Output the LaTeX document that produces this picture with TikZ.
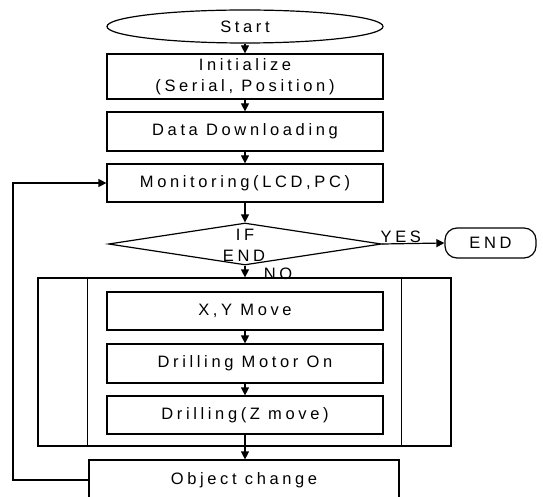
\documentclass[tikz,border=0pt]{standalone}
\usepackage{fontspec}
\setmainfont{Liberation Sans}[LetterSpace=22]
\usetikzlibrary{arrows.meta,shapes.geometric}
\begin{document}
\begin{tikzpicture}[x=1bp,y=-1bp,
  line width=1.2bp,
  every node/.style={font=\fontsize{16.5bp}{19bp}\selectfont, inner sep=0pt},
  box/.style={draw, rectangle, minimum width=276bp, align=center},
  arr/.style={-{Triangle[length=8bp,width=8bp]}},
  lbl/.style={anchor=base}]
\clip (0,0) rectangle (543,497);
\fill[white] (0,0) rectangle (543,497);
\node[draw, ellipse, minimum width=276bp, minimum height=33bp] (start) at (245,26.5) {Start};
\node[box, minimum height=45bp] (init) at (245,76.5) {Initialize\\[2bp](Serial, Position)};
\node[box, minimum height=39bp] (data) at (245,131.5) {Data Downloading};
\node[box, minimum height=38bp] (mon) at (245,183) {Monitoring(LCD,PC)};
\node[draw, diamond, minimum width=273bp, minimum height=42bp] (cond) at (245,244) {};
\node[lbl] (condif) at (245,240) {IF};
\node[lbl] (condend) at (244,261) {END};
\node[draw, rounded corners=12bp, minimum width=91bp, minimum height=30bp] (endn) at (490.5,243) {END};
\node[draw, rectangle, minimum width=413bp, minimum height=168bp] (loop) at (244.5,362) {};
\node[box, minimum height=38bp] (xy) at (245,311) {X,Y Move};
\node[box, minimum height=39bp] (dm) at (245,363.5) {Drilling Motor On};
\node[box, minimum height=38bp] (dz) at (245,415) {Drilling(Z move)};
\node[box, minimum width=310bp, minimum height=40bp] (oc) at (244,480) {Object change};
\draw ([xshift=50bp]loop.north west) -- ([xshift=50bp]loop.south west);
\draw ([xshift=-50bp]loop.north east) -- ([xshift=-50bp]loop.south east);
\draw[arr] (start.south) -- (init.north);
\draw[arr] (init.south) -- (data.north);
\draw[arr] (data.south) -- (mon.north);
\draw[arr] (mon.south) -- (cond.north);
\draw[arr] (cond.east) -- node[lbl, pos=0.3, yshift=1.5bp] (yes) {YES} (endn.west);
\draw[arr] (cond.south) -- node[lbl, pos=0.5, xshift=33bp, yshift=-8bp] (no) {NO} (cond.south |- loop.north);
\draw[arr] (xy.south) -- (dm.north);
\draw[arr] (dm.south) -- (dz.north);
\draw[arr] (dz.south) -- (dz.south |- oc.north);
\coordinate (fb) at (13,480);
\draw[arr] (oc.west) -- (fb) |- (mon.west);
\end{tikzpicture}
\end{document}
